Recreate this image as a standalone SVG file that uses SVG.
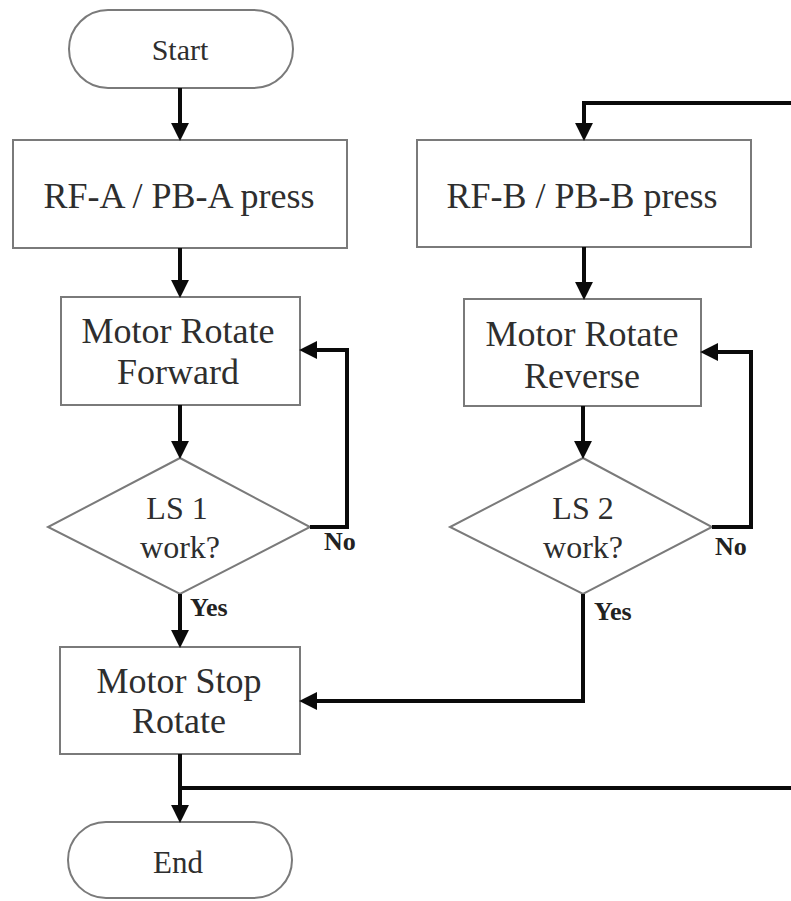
<svg xmlns="http://www.w3.org/2000/svg" width="791" height="901" viewBox="0 0 791 901">
  <style>
    .shape { fill: #ffffff; stroke: #7a7a7a; stroke-width: 2; }
    .lbl { font-family: "Liberation Serif", "Times New Roman", serif; fill: #2e2e2e; text-anchor: middle; }
    .big { font-size: 36px; }
    .mid { font-size: 32px; }
    .tag { font-family: "Liberation Serif", "Times New Roman", serif; fill: #222; font-size: 26px; font-weight: bold; }
    .flow { fill: none; stroke: #0a0a0a; stroke-width: 4; stroke-linejoin: miter; marker-end: url(#head); }
    .flow.plain { marker-end: none; }
  </style>
  <defs>
    <marker id="head" markerUnits="userSpaceOnUse" markerWidth="18" markerHeight="18" viewBox="0 0 16 16" refX="9" refY="8" orient="auto">
      <path d="M0,0 L16,8 L0,16 z" fill="#0a0a0a"/>
    </marker>
  </defs>

  <rect width="791" height="901" fill="#ffffff"/>

  <g id="start">
    <rect class="shape" x="69" y="10" width="224" height="78" rx="39"/>
    <text class="lbl" x="180" y="60" font-size="30">Start</text>
  </g>

  <g id="press-a">
    <rect class="shape" x="13" y="140" width="334" height="108"/>
    <text class="lbl big" x="179" y="208">RF-A / PB-A press</text>
  </g>

  <g id="press-b">
    <rect class="shape" x="417" y="140" width="334" height="107"/>
    <text class="lbl big" x="582" y="208">RF-B / PB-B press</text>
  </g>

  <g id="rotate-forward">
    <rect class="shape" x="61" y="297" width="239" height="108"/>
    <text class="lbl big" x="178" y="343">Motor Rotate</text>
    <text class="lbl big" x="178" y="384">Forward</text>
  </g>

  <g id="rotate-reverse">
    <rect class="shape" x="464" y="299" width="237" height="107"/>
    <text class="lbl big" x="582" y="346">Motor Rotate</text>
    <text class="lbl big" x="582" y="388">Reverse</text>
  </g>

  <g id="ls1">
    <polygon class="shape" points="180,458 310,527 180,594 48,527"/>
    <text class="lbl mid" x="177" y="519">LS 1</text>
    <text class="lbl mid" x="180" y="558">work?</text>
  </g>

  <g id="ls2">
    <polygon class="shape" points="583,458 712,527 583,594 450,527"/>
    <text class="lbl mid" x="583" y="519">LS 2</text>
    <text class="lbl mid" x="583" y="558">work?</text>
  </g>

  <g id="motor-stop">
    <rect class="shape" x="60" y="647" width="240" height="107"/>
    <text class="lbl big" x="179" y="693">Motor Stop</text>
    <text class="lbl big" x="179" y="733">Rotate</text>
  </g>

  <g id="end">
    <rect class="shape" x="68" y="822" width="224" height="76" rx="38"/>
    <text class="lbl" x="178" y="873" font-size="31">End</text>
  </g>

  <g id="connectors">
    <path class="flow" d="M180 88 V133"/>
    <path class="flow" d="M180 248 V290"/>
    <path class="flow" d="M180 405 V451"/>
    <path class="flow" d="M310 527 H347 V350 H307"/>
    <path class="flow" d="M180 594 V640"/>
    <path class="flow" d="M180 754 V815"/>
    <path class="flow plain" d="M180 788 H791"/>
    <path class="flow" d="M791 103 H584 V133"/>
    <path class="flow" d="M584 247 V292"/>
    <path class="flow" d="M583 406 V451"/>
    <path class="flow" d="M712 527 H751 V352 H708"/>
    <path class="flow" d="M583 594 V701 H307"/>
  </g>

  <g id="branch-labels">
    <text class="tag" x="324" y="550">No</text>
    <text class="tag" x="190" y="616">Yes</text>
    <text class="tag" x="715" y="555">No</text>
    <text class="tag" x="594" y="620">Yes</text>
  </g>
</svg>
